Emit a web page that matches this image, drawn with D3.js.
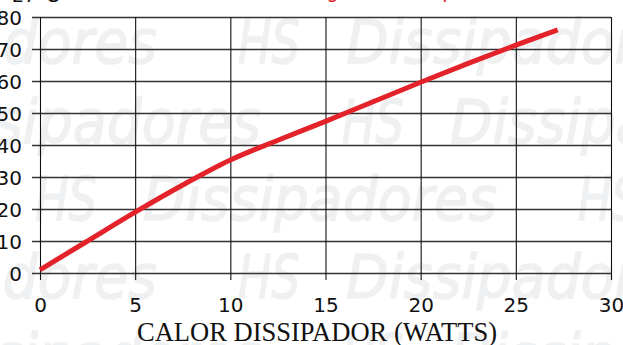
<!DOCTYPE html>
<html>
<head>
<meta charset="utf-8">
<script src="https://cdn.jsdelivr.net/npm/d3@7"></script>
<style>
  html, body { margin: 0; padding: 0; background: #fff; }
  svg { display: block; }
</style>
</head>
<body>
<svg id="chart" width="623" height="345"></svg>
<script>
// ---- data ----
const watts = [0, 2.5, 5, 7.5, 10, 12.5, 15, 17.5, 20, 22.5, 25, 27.2];
const tempRise = [1, 10, 19, 27.5, 35.3, 41.5, 47.4, 53.5, 59.6, 65.5, 71.2, 76];
const xTicks = [0, 5, 10, 15, 20, 25, 30];
const yTicks = [0, 10, 20, 30, 40, 50, 60, 70, 80];
const xTitle = "CALOR DISSIPADOR (WATTS)";
const topLeftText = "27°C";
const topRedText = "Margem de temperatura";
const watermarkWords = ["HS", "Dissipadores"];
// watermark rows: baseline y and x position of "HS"
const wmRowY = [63, 143, 220, 298, 377];
const wmRowX = [238, 342, 35, 238, 342];

const W = 623, H = 345;
const m = { left: 40, right: 12, top: 17, bottom: 72 };
const svg = d3.select("#chart");

const x = d3.scaleLinear().domain([0, 30]).range([m.left, W - m.right]);
const y = d3.scaleLinear().domain([0, 80]).range([H - m.bottom, m.top]);

// ---- watermark ----
const wmColor = "#eff0f2";
const wm = svg.append("g")
  .attr("fill", wmColor)
  .attr("font-family", "DejaVu Sans, Verdana, sans-serif")
  .attr("font-style", "italic")
  .attr("font-size", 60);
const period = 543;
wmRowY.forEach((by, i) => {
  for (let k = -1; k <= 1; k++) {
    const hx = wmRowX[i] + k * period;
    wm.append("text").attr("x", hx).attr("y", by)
      .attr("textLength", 62).attr("lengthAdjust", "spacingAndGlyphs")
      .attr("stroke", wmColor).attr("stroke-width", 1.5)
      .text(watermarkWords[0]);
    wm.append("text").attr("x", hx + 108).attr("y", by)
      .attr("textLength", 354).attr("lengthAdjust", "spacingAndGlyphs")
      .attr("stroke", wmColor).attr("stroke-width", 1.5)
      .text(watermarkWords[1]);
  }
});

// ---- cut-off title texts at the top ----
svg.append("text").attr("x", 12).attr("y", 2)
  .attr("font-family", "DejaVu Sans, Verdana, sans-serif").attr("font-size", 19)
  .attr("fill", "#111").text(topLeftText);
svg.append("text").attr("x", 291).attr("y", -2)
  .attr("font-family", "DejaVu Sans, Verdana, sans-serif").attr("font-size", 19)
  .attr("fill", "#e3222a").text(topRedText);

// ---- axes / grid ----
const yAxis = d3.axisLeft(y).tickValues(yTicks)
  .tickSize(-(W - m.right - m.left)).tickSizeOuter(0).tickPadding(18);
const gy = svg.append("g").attr("transform", `translate(${m.left},0)`).call(yAxis);
gy.select(".domain").remove();
gy.selectAll(".tick line")
  .attr("x1", -8)
  .attr("stroke", "#333").attr("stroke-width", 1.4);
gy.selectAll(".tick text")
  .attr("font-family", "DejaVu Sans, Verdana, sans-serif")
  .attr("font-size", 20).attr("fill", "#111").attr("dy", "0.36em");

const xAxis = d3.axisBottom(x).tickValues(xTicks)
  .tickSize(-(H - m.bottom - m.top)).tickSizeOuter(0).tickPadding(25);
const gx = svg.append("g").attr("transform", `translate(0,${H - m.bottom})`).call(xAxis);
gx.select(".domain").remove();
gx.selectAll(".tick line")
  .attr("y1", 7)
  .attr("stroke", "#111").attr("stroke-width", 1.1);
gx.selectAll(".tick text")
  .attr("font-family", "DejaVu Sans, Verdana, sans-serif")
  .attr("font-size", 20).attr("fill", "#111");

// x-axis title
svg.append("text")
  .attr("x", (137 + 497) / 2).attr("y", 341)
  .attr("text-anchor", "middle")
  .attr("font-family", "Liberation Serif, Times New Roman, serif")
  .attr("font-size", 28).attr("fill", "#111")
  .attr("textLength", 360).attr("lengthAdjust", "spacingAndGlyphs")
  .text(xTitle);

// ---- curve ----
const pts = watts.map((w, i) => [w, tempRise[i]]);
const line = d3.line().x(d => x(d[0])).y(d => y(d[1])).curve(d3.curveMonotoneX);
svg.append("path").datum(pts)
  .attr("d", line)
  .attr("fill", "none")
  .attr("stroke", "#e3222a")
  .attr("stroke-width", 5)
  .attr("stroke-linecap", "butt");
</script>
</body>
</html>
